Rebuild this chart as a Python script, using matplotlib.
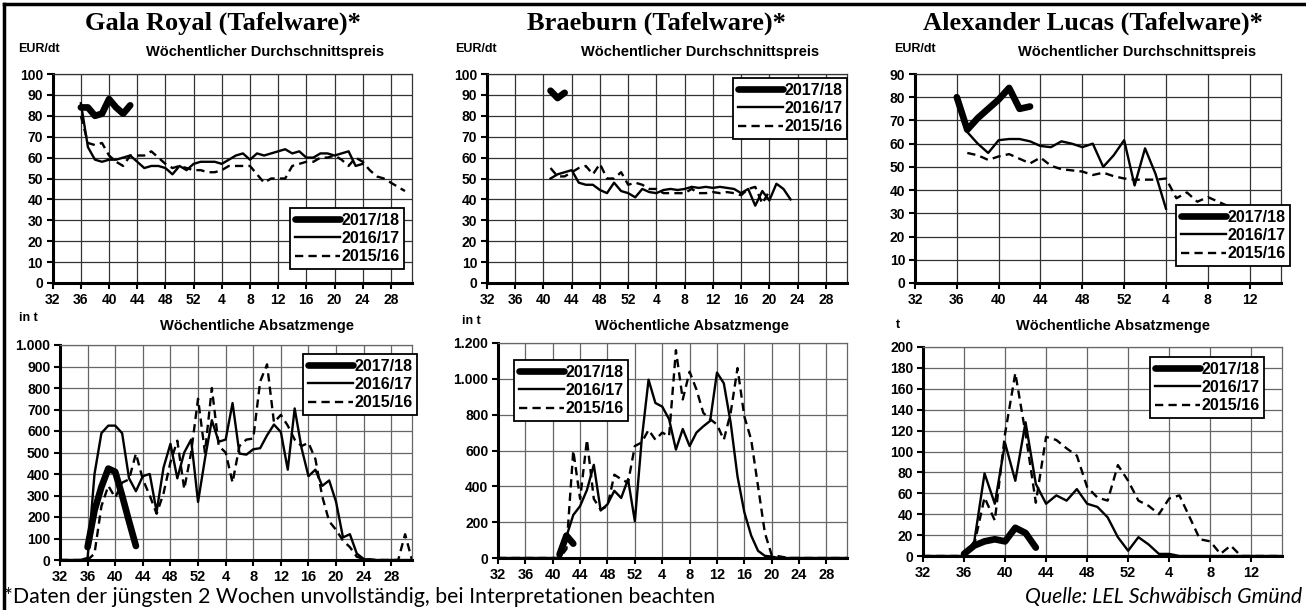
import matplotlib
matplotlib.use("Agg")
import matplotlib.pyplot as plt
from matplotlib.lines import Line2D
from matplotlib.ticker import FuncFormatter
import numpy as np

W, H = 1306, 610

# week axis: index 0 = KW 32, index 20 = KW 52, index 21 = KW 1 of next year
week_ticks_full = [32, 36, 40, 44, 48, 52, 4, 8, 12, 16, 20, 24, 28]
week_ticks_short = [32, 36, 40, 44, 48, 52, 4, 8, 12]
seasons = ["2017/18", "2016/17", "2015/16"]

# ---- Gala Royal ----
gala_price_1718 = [84, 84, 80, 81, 88, 84, 81, 85]            # from KW 36
gala_price_1617 = [86, 65, 59, 58, 59, 59, 60, 61, 58, 55, 56, 56, 55, 52, 56, 54, 57,
                   58, 58, 58, 57, 59, 61, 62, 59, 62, 61, 62, 63, 64, 62, 63, 60, 60,
                   62, 62, 61, 62, 63, 56, 57]                   # from KW 36
gala_price_1516 = [80, 67, 66, 67, 61, 58, 56, 61, 61, 61, 63, 60, 57, 55, 56, 55, 54,
                   54, 53, 53, 54, 56, 56, 56, 56, 52, 48, 50, 50, 50, 56, 57, 58, 58,
                   60, 60, 61, 59, 56, 60, 58, 54, 51, 50, 48, 46, 44]  # from KW 36
gala_vol_1718 = [60, 230, 340, 425, 410, 300, 180, 65]        # from KW 36
gala_vol_1617 = [0, 0, 0, 0, 10, 400, 590, 625, 625, 590, 380, 320, 390, 400, 225, 430,
                 540, 380, 500, 560, 270, 470, 650, 550, 560, 730, 495, 490, 515, 520,
                 580, 630, 595, 420, 705, 520, 390, 420, 345, 370, 270, 105, 120, 30, 5,
                 0, 0, 0, 0, 0, 0, 0]                          # from KW 32
gala_vol_1516 = [0, 0, 0, 0, 0, 30, 250, 345, 290, 360, 375, 495, 375, 300, 215, 310,
                 455, 555, 330, 500, 750, 500, 800, 530, 500, 360, 530, 560, 565, 830,
                 910, 640, 675, 625, 560, 530, 545, 470, 295, 180, 140, 90, 60, 15, 5, 3,
                 0, 0, 0, 0, 120, 0]                           # from KW 32

# ---- Braeburn ----
brae_price_1718 = [92, 88.5, 91]                               # from KW 41
brae_price_1617 = [50, 52, 53, 54, 48, 47, 47, 44.5, 43, 48, 44, 43, 41, 45, 43.5, 43,
                   44.5, 45, 44.5, 45, 46, 45.5, 46, 45.5, 46, 45.5, 45, 43, 45, 37, 44,
                   39.5, 47.5, 45, 40]                         # from KW 41
brae_price_1516 = [55, 51, 51, 53, 55, 56, 52, 57, 50, 50, 53, 47, 48, 47, 45, 45, 43,
                   43, 43, 43, 45, 43, 43, 43.5, 43, 43.5, 43, 42, 45, 46, 38, 44]  # from KW 41
brae_vol_1718 = [20, 125, 80]                                  # from KW 41
brae_vol_1617 = [0, 0, 0, 0, 0, 0, 0, 0, 0, 0, 120, 240, 290, 380, 520, 265, 300, 375,
                 335, 440, 205, 660, 995, 865, 845, 775, 605, 720, 625, 700, 735, 765,
                 1035, 975, 755, 455, 255, 125, 40, 12, 8, 0, 0, 0, 0, 0, 0, 0, 0, 0, 0, 0]
brae_vol_1516 = [0, 0, 0, 0, 0, 0, 0, 0, 0, 0, 50, 600, 330, 660, 330, 270, 290, 465,
                 440, 420, 625, 645, 715, 660, 700, 680, 1160, 885, 1040, 940, 810, 775,
                 745, 660, 810, 1060, 790, 660, 400, 140, 15, 10, 3, 0, 0, 0, 0, 0, 0, 0,
                 0, 0]

# ---- Alexander Lucas ----
al_price_1718 = [80, 66, 71, 75, 79, 84, 75, 76]               # from KW 36
al_price_1617 = [65, 60, 56, 61.5, 62, 62, 61, 59, 58.5, 61, 60, 58.5, 60, 50, 55, 61.5,
                 42, 58, 47, 32]                               # from KW 37
al_price_1516 = [56, 55, 53, 54.5, 55.5, 53.5, 51.5, 54, 50.5, 49, 48.5, 48, 46.5, 47.5,
                 46, 45, 44.5, 44.5, 44.5, 45, 36.5, 39, 35, 37, 35, 33, 31]  # from KW 37
al_vol_1718 = [2, 10, 14, 16, 14, 27, 22, 8]                   # from KW 36
al_vol_1617 = [0, 0, 0, 0, 0, 14, 79, 50, 108, 72, 128, 69, 50, 58, 53, 64, 50, 47, 37,
               18, 5, 18, 11, 2, 2, 0, 0, 0, 0, 0, 0, 0, 0, 0, 0, 0]
al_vol_1516 = [0, 0, 0, 0, 0, 11, 56, 34, 117, 175, 117, 51, 114, 111, 103, 96, 66, 56,
               53, 87, 72, 53, 48, 40, 55, 58, 37, 16, 14, 2, 10, 0, 0, 0, 0, 0]


def wk_index(week):
    return week - 32 if week >= 32 else week + 20


def series(start_week, values):
    i0 = wk_index(start_week)
    return np.arange(i0, i0 + len(values)), np.array(values, dtype=float)


STYLE = {
    "2017/18": dict(color="black", lw=4.8, solid_capstyle="round",
                    solid_joinstyle="round", ls="-"),
    "2016/17": dict(color="black", lw=1.7, ls="-", solid_joinstyle="round"),
    "2015/16": dict(color="black", lw=1.7, ls=(0, (3.5, 2.2))),
}

fig = plt.figure(figsize=(W / 100, H / 100), dpi=100)
plt.rcParams["font.family"] = ["Liberation Sans", "DejaVu Sans"]


def add_axes(l, t, r, b):
    return fig.add_axes([l / W, 1 - b / H, (r - l) / W, (b - t) / H])


def setup(ax, xmax, labels, ymax, ystep, grid_color, xfs, yfs, thousands=False):
    ax.set_xlim(0, xmax)
    ax.set_ylim(0, ymax)
    ax.set_xticks(np.arange(0, 4 * len(labels), 4))
    ax.set_xticklabels([str(v) for v in labels], fontsize=xfs, fontweight="bold")
    ax.set_yticks(np.arange(0, ymax + 0.1, ystep))
    if thousands:
        ax.yaxis.set_major_formatter(
            FuncFormatter(lambda v, p: f"{int(v):,}".replace(",", ".")))
    for lab in ax.get_yticklabels():
        lab.set_fontsize(yfs)
        lab.set_fontweight("bold")
    ax.grid(True, color=grid_color, lw=0.9)
    ax.set_axisbelow(True)
    for s in ["left", "bottom"]:
        ax.spines[s].set_linewidth(2.2)
    for s in ["top", "right"]:
        ax.spines[s].set_linewidth(0.9)
        ax.spines[s].set_color(grid_color)
    ax.tick_params(direction="out", length=4, width=1.5, pad=3)


def draw(ax, data, starts):
    for season, vals, st in zip(seasons, data, starts):
        x, y = series(st, vals)
        ax.plot(x, y, zorder=3 if season != "2017/18" else 4, **STYLE[season])


def legend(ax, l, t):
    handles = [Line2D([], [], **STYLE[s]) for s in seasons]
    lg = ax.legend(handles, seasons, loc="upper left", bbox_to_anchor=(l / W, 1 - t / H),
                   bbox_transform=fig.transFigure, borderaxespad=0, fancybox=False,
                   framealpha=1, edgecolor="black", handlelength=2.8, handletextpad=0.1,
                   borderpad=0.3, labelspacing=0.2, prop=dict(size=11.5, weight="bold"))
    lg.get_frame().set_linewidth(1.3)
    lg.set_zorder(10)


# top row: prices
ax1 = add_axes(52.7, 74, 412, 283)
setup(ax1, 51, week_ticks_full, 100, 10, "#333333", 10, 10)
draw(ax1, [gala_price_1718, gala_price_1617, gala_price_1516], [36, 36, 36])
legend(ax1, 290, 208)

ax2 = add_axes(487, 74, 847, 283)
setup(ax2, 51, week_ticks_full, 100, 10, "#333333", 10, 10)
draw(ax2, [brae_price_1718, brae_price_1617, brae_price_1516], [41, 41, 41])
legend(ax2, 733, 78)

ax3 = add_axes(915, 74, 1281, 283)
setup(ax3, 35, week_ticks_short, 90, 10, "#333333", 10, 10)
draw(ax3, [al_price_1718, al_price_1617, al_price_1516], [36, 37, 37])
legend(ax3, 1176, 205)

# bottom row: volumes
ax4 = add_axes(60, 345, 412, 560)
setup(ax4, 51, week_ticks_full, 1000, 100, "#666666", 10.5, 10, thousands=True)
draw(ax4, [gala_vol_1718, gala_vol_1617, gala_vol_1516], [36, 32, 32])
legend(ax4, 303, 354)

ax5 = add_axes(498, 343, 847, 558)
setup(ax5, 51, week_ticks_full, 1200, 200, "#666666", 10.5, 10, thousands=True)
draw(ax5, [brae_vol_1718, brae_vol_1617, brae_vol_1516], [41, 32, 32])
legend(ax5, 514, 360)

ax6 = add_axes(923, 347, 1282, 556)
setup(ax6, 35, week_ticks_short, 200, 20, "#666666", 10.5, 10)
draw(ax6, [al_vol_1718, al_vol_1617, al_vol_1516], [36, 32, 32])
legend(ax6, 1150, 357)


def ftext(x, y, s, **kw):
    fig.text(x / W, 1 - y / H, s, **kw)


title_kw = dict(ha="center", va="center", fontsize=19, fontweight="bold",
                family=["Liberation Serif", "DejaVu Serif"])
ftext(223, 23, "Gala Royal (Tafelware)*", **title_kw)
ftext(656, 23, "Braeburn (Tafelware)*", **title_kw)
ftext(1093, 23, "Alexander Lucas (Tafelware)*", **title_kw)

for cx, ux in [(265, 18), (700, 455), (1137, 894)]:
    ftext(cx, 52, "Wöchentlicher Durchschnittspreis", ha="center", va="center",
          fontsize=10.5, fontweight="bold")
    ftext(ux, 49, "EUR/dt", ha="left", va="center", fontsize=9, fontweight="bold")

for cx in [257, 692, 1113]:
    ftext(cx, 326, "Wöchentliche Absatzmenge", ha="center", va="center",
          fontsize=10.5, fontweight="bold")
ftext(19, 318, "in t", ha="left", va="center", fontsize=9, fontweight="bold")
ftext(462, 321, "in t", ha="left", va="center", fontsize=9, fontweight="bold")
ftext(896, 325, "t", ha="left", va="center", fontsize=9, fontweight="bold")

ftext(4, 597, "*Daten der jüngsten 2 Wochen unvollständig, bei Interpretationen beachten",
      ha="left", va="center", fontsize=15.3, family=["Lato", "DejaVu Sans"])
ftext(1302, 597, "Quelle: LEL Schwäbisch Gmünd", ha="right", va="center", fontsize=15.3,
      style="italic", family=["Lato", "DejaVu Sans"])

# outer frame (left and top edges visible)
fig.add_artist(Line2D([3.5 / W, 3.5 / W], [0, 1 - 3.5 / H], color="black", lw=2.5,
                      transform=fig.transFigure))
fig.add_artist(Line2D([3.5 / W, 1], [1 - 3.5 / H, 1 - 3.5 / H], color="black", lw=2.5,
                      transform=fig.transFigure))

fig.savefig("out.png", dpi=100)
